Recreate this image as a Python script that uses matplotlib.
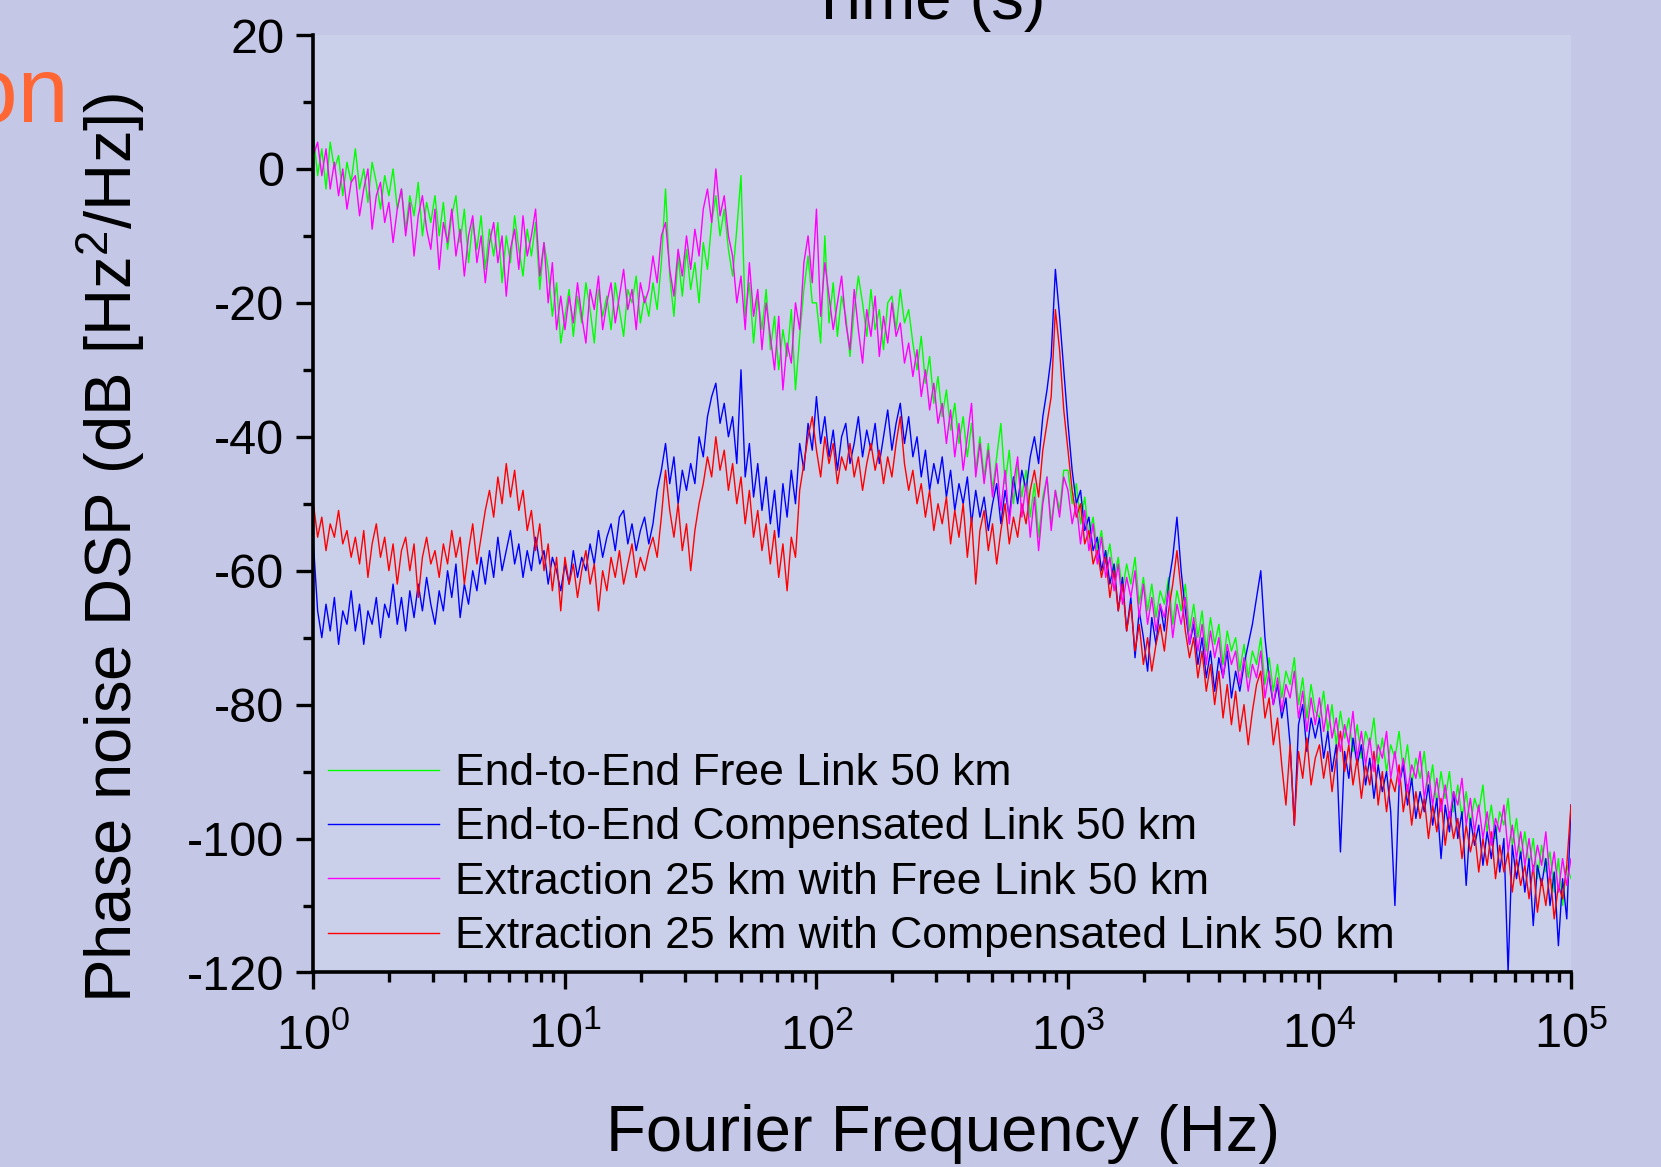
import numpy as np
import matplotlib
matplotlib.use("Agg")
import matplotlib.pyplot as plt
from matplotlib.ticker import MultipleLocator, LogLocator, NullFormatter

plt.rcParams['font.family'] = ['Liberation Sans', 'DejaVu Sans']
plt.rcParams['mathtext.fontset'] = 'custom'
plt.rcParams['mathtext.rm'] = 'Liberation Sans'
plt.rcParams['mathtext.it'] = 'Liberation Sans:italic'
plt.rcParams['axes.unicode_minus'] = False

# sample grid: 60 points per decade, 1 Hz .. 100 kHz
freq = np.logspace(0, 5, 301)

labels = ["End-to-End Free Link 50 km",
          "End-to-End Compensated Link 50 km",
          "Extraction 25 km with Free Link 50 km",
          "Extraction 25 km with Compensated Link 50 km"]
colors = ["#00FF00", "#0000FF", "#FF00FF", "#FF0000"]

e2e_free = (
    [5, -1, 3, -3, 4, 0, 2, -4, 1, -2, 3, -3, 0, -5, 1, -2, -6, -1, -4, 0,
     -6, -3, -9, -4, -7, -2, -10, -5, -8, -4, -10, -5, -12, -7, -4, -11, -6, -14, -8, -12,
     -7, -15, -9, -13, -8, -17, -10, -14, -7, -12, -16, -9, -13, -8, -18, -11, -15, -22, -17, -26]
    + [-22, -18, -25, -19, -23, -17, -21, -26, -18, -22, -19, -24, -17, -21, -25, -18, -20, -16, -23, -19,
       -22, -17, -21, -14, -3, -16, -22, -13, -19, -12, -18, -14, -20, -11, -15, -8, -4, -10, -6, -12,
       -16, -9, -1, -22, -17, -26, -19, -24, -18, -27, -22, -30, -24, -28, -21, -33, -25, -18, -13, -20]
    + [-20, -26, -10, -23, -17, -25, -19, -22, -28, -21, -16, -20, -25, -18, -24, -21, -27, -20, -19, -24,
       -18, -23, -21, -26, -30, -25, -32, -28, -35, -31, -37, -33, -39, -35, -41, -37, -43, -38, -45, -40,
       -46, -41, -48, -43, -38, -47, -42, -50, -44, -49, -45, -52, -47, -55, -49, -46, -53, -48, -51, -45]
    + [-45, -50, -47, -53, -49, -55, -52, -57, -54, -59, -56, -61, -58, -63, -59, -62, -58, -65, -61, -66,
       -62, -67, -63, -65, -61, -68, -63, -66, -62, -69, -65, -70, -66, -72, -67, -71, -68, -74, -69, -72,
       -70, -75, -71, -76, -72, -74, -70, -77, -73, -78, -74, -79, -75, -77, -73, -80, -76, -82, -77, -81]
    + [-82, -78, -84, -80, -86, -81, -85, -82, -87, -83, -88, -84, -86, -82, -89, -85, -90, -86, -88, -84,
       -90, -86, -92, -88, -91, -87, -93, -89, -95, -90, -94, -90, -96, -92, -97, -93, -98, -94, -96, -92,
       -99, -95, -100, -96, -98, -94, -101, -97, -103, -99, -104, -100, -106, -101, -105, -102, -108, -103, -110, -104,
       -106])

e2e_comp = (
    [-56, -66, -70, -65, -69, -64, -71, -66, -68, -63, -69, -65, -71, -66, -68, -64, -70, -65, -67, -62,
     -68, -64, -69, -63, -67, -62, -66, -61, -65, -68, -63, -66, -60, -64, -59, -67, -62, -65, -60, -63,
     -58, -62, -57, -61, -55, -60, -57, -54, -59, -56, -61, -57, -60, -55, -59, -57, -62, -58, -60, -63]
    + [-59, -62, -57, -61, -58, -60, -56, -59, -54, -58, -55, -53, -57, -52, -51, -56, -53, -57, -54, -52,
       -56, -53, -48, -45, -41, -47, -43, -50, -45, -48, -44, -47, -40, -43, -37, -34, -32, -38, -35, -40,
       -37, -44, -30, -46, -41, -49, -44, -51, -46, -53, -48, -55, -47, -52, -45, -50, -41, -45, -38, -42]
    + [-34, -41, -37, -43, -39, -45, -40, -38, -44, -41, -37, -43, -39, -42, -38, -44, -40, -36, -42, -38,
       -35, -41, -37, -43, -40, -46, -42, -48, -44, -47, -43, -49, -45, -51, -47, -50, -46, -53, -48, -52,
       -49, -54, -50, -47, -53, -48, -52, -46, -50, -45, -48, -43, -40, -44, -37, -33, -28, -15, -22, -30]
    + [-38, -45, -50, -48, -54, -52, -57, -55, -60, -57, -62, -59, -66, -61, -69, -64, -73, -66, -70, -75,
       -67, -71, -65, -69, -62, -58, -52, -60, -66, -71, -68, -74, -70, -76, -72, -78, -73, -76, -72, -79,
       -75, -78, -74, -71, -68, -64, -60, -70, -76, -80, -77, -82, -79, -86, -98, -83, -80, -87, -82, -85]
    + [-82, -88, -84, -90, -86, -102, -87, -91, -85, -89, -86, -92, -88, -94, -89, -93, -90, -96, -110, -92,
       -89, -95, -91, -97, -93, -96, -92, -98, -94, -103, -95, -99, -93, -100, -96, -107, -97, -101, -98, -104,
       -99, -103, -98, -105, -100, -120, -101, -106, -102, -108, -103, -113, -104, -107, -103, -110, -105, -116, -106, -112,
       -95])

ext_free = (
    [2, 4, -1, 3, -3, 1, -4, 0, -6, -2, -1, -7, -3, 0, -9, -4, -2, -8, -5, -11,
     -6, -3, -10, -5, -13, -7, -4, -9, -12, -6, -15, -8, -11, -6, -13, -9, -16, -10, -7, -14,
     -10, -17, -11, -8, -14, -10, -19, -12, -9, -15, -7, -13, -10, -6, -16, -11, -20, -14, -24, -19]
    + [-24, -19, -23, -17, -22, -26, -18, -21, -16, -24, -20, -17, -23, -19, -15, -21, -18, -24, -17, -20,
       -18, -13, -17, -10, -8, -15, -19, -12, -16, -10, -15, -9, -13, -6, -3, -8, 0, -7, -4, -10,
       -13, -20, -16, -24, -14, -22, -18, -27, -20, -25, -30, -22, -33, -26, -29, -20, -24, -14, -10, -17]
    + [-6, -22, -14, -19, -24, -20, -16, -23, -27, -18, -24, -29, -21, -25, -19, -28, -22, -26, -20, -25,
       -23, -29, -26, -31, -27, -34, -30, -36, -32, -38, -35, -41, -36, -43, -38, -45, -40, -35, -46, -41,
       -47, -42, -49, -44, -51, -45, -53, -47, -43, -52, -47, -55, -49, -57, -50, -46, -54, -48, -52, -46]
    + [-48, -53, -50, -56, -51, -57, -53, -59, -55, -61, -58, -63, -59, -65, -61, -64, -60, -67, -62, -68,
       -64, -69, -65, -67, -63, -70, -65, -68, -64, -71, -67, -72, -68, -74, -69, -73, -70, -76, -71, -74,
       -72, -77, -73, -78, -74, -76, -72, -79, -75, -80, -76, -81, -77, -79, -75, -82, -78, -84, -79, -83]
    + [-79, -84, -80, -85, -82, -87, -83, -86, -81, -88, -84, -89, -85, -90, -86, -88, -84, -91, -87, -92,
       -88, -93, -89, -91, -87, -94, -90, -95, -91, -96, -92, -97, -93, -95, -91, -98, -94, -99, -95, -100,
       -96, -101, -97, -99, -95, -102, -98, -103, -99, -104, -100, -105, -101, -104, -99, -106, -102, -108, -103, -107,
       -103])

ext_comp = (
    [-50, -55, -52, -57, -53, -55, -51, -56, -54, -58, -55, -59, -54, -61, -56, -53, -58, -55, -60, -56,
     -62, -57, -55, -60, -56, -64, -58, -55, -59, -57, -61, -56, -59, -54, -58, -55, -62, -57, -53, -59,
     -55, -51, -48, -52, -46, -50, -44, -49, -45, -51, -48, -54, -51, -57, -53, -60, -56, -63, -58, -66]
    + [-58, -62, -59, -64, -60, -57, -62, -59, -66, -60, -63, -58, -61, -57, -62, -59, -56, -61, -58, -60,
       -57, -55, -58, -52, -45, -51, -55, -50, -57, -53, -60, -54, -50, -47, -43, -46, -40, -45, -42, -48,
       -44, -50, -46, -53, -48, -55, -51, -57, -53, -59, -54, -61, -56, -63, -55, -58, -48, -44, -40, -37]
    + [-42, -46, -40, -44, -41, -47, -43, -45, -41, -46, -43, -48, -44, -41, -45, -42, -47, -43, -46, -41,
       -37, -44, -48, -45, -50, -47, -52, -48, -54, -50, -53, -49, -56, -51, -55, -50, -58, -52, -62, -54,
       -51, -57, -53, -59, -54, -50, -56, -52, -55, -50, -53, -48, -45, -49, -42, -38, -34, -21, -27, -36]
    + [-42, -48, -52, -50, -56, -54, -59, -57, -61, -58, -64, -60, -66, -62, -69, -65, -72, -68, -74, -70,
       -75, -71, -68, -72, -66, -62, -57, -63, -69, -73, -70, -76, -72, -78, -74, -80, -75, -82, -77, -83,
       -78, -84, -80, -86, -81, -77, -75, -82, -79, -86, -82, -89, -95, -86, -98, -87, -91, -85, -92, -88]
    + [-86, -91, -87, -93, -88, -84, -90, -86, -92, -88, -94, -89, -92, -87, -95, -90, -96, -91, -93, -89,
       -96, -92, -98, -93, -97, -94, -100, -95, -99, -94, -101, -96, -100, -97, -103, -98, -102, -99, -105, -100,
       -104, -99, -106, -101, -105, -102, -108, -103, -107, -104, -109, -104, -111, -106, -110, -105, -112, -107, -109, -104,
       -95])

series = [e2e_free, e2e_comp, ext_free, ext_comp]

fig = plt.figure(figsize=(16.61, 11.67), dpi=100, facecolor="#C4C8E6")
ax = fig.add_axes([0.1887, 0.1667, 0.7571, 0.8033], facecolor="#CBD0EA")

lines = {}
for k in [0, 1, 3, 2]:
    lines[k], = ax.plot(freq, series[k], color=colors[k], lw=1.0, label=labels[k])

ax.set_xscale("log")
ax.set_xlim(1, 1e5)
ax.set_ylim(-120, 20)
ax.yaxis.set_major_locator(MultipleLocator(20))
ax.yaxis.set_minor_locator(MultipleLocator(10))
ax.xaxis.set_major_locator(LogLocator(base=10))
ax.xaxis.set_minor_locator(LogLocator(base=10, subs=np.arange(2, 10)))
ax.xaxis.set_minor_formatter(NullFormatter())

for s in ["top", "right"]:
    ax.spines[s].set_visible(False)
for s in ["left", "bottom"]:
    ax.spines[s].set_linewidth(2.6)
ax.tick_params(which="major", direction="out", length=12, width=2.4, labelsize=35)
ax.tick_params(which="minor", direction="out", length=7, width=2.4)
ax.tick_params(axis="y", which="major", pad=9)
ax.tick_params(axis="x", which="major", pad=17)

leg = ax.legend([lines[k] for k in range(4)], labels, loc="upper left",
                bbox_to_anchor=(0.0115, 0.234), frameon=False, fontsize=32,
                handlelength=2.5, handletextpad=0.35, labelspacing=0.30,
                borderpad=0, borderaxespad=0)

fig.text(0.568, 0.0137, "Fourier Frequency (Hz)", fontsize=47, ha="center", va="baseline")
fig.text(0.0668, 0.5304, "Phase noise DSP (dB [Hz$^2$/Hz])", fontsize=47,
         rotation=90, ha="center", va="center")
fig.text(0.558, 0.9837, "Time (s)", fontsize=47, ha="center", va="baseline")
fig.text(0.0415, 0.8955, "tion", fontsize=66, color="#FF6633", ha="right", va="baseline")

fig.savefig("out.png", dpi=100, facecolor=fig.get_facecolor())
